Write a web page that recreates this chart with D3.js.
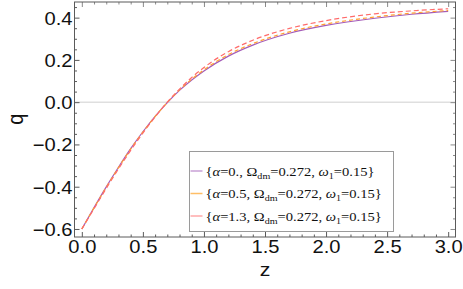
<!DOCTYPE html>
<html>
<head>
<meta charset="utf-8">
<script src="https://cdn.jsdelivr.net/npm/d3@7"></script>
<style>
  html, body { margin: 0; padding: 0; background: #fff; }
  svg { display: block; }
  .tick-label { font-family: "Liberation Sans", Arial, sans-serif; font-size: 18px; fill: #111; }
  .axis-title { font-family: "Liberation Sans", Arial, sans-serif; font-size: 20px; fill: #111; }
  .legend-text { font-family: "Liberation Serif", "Times New Roman", serif; font-size: 13px; fill: #111; }
</style>
</head>
<body>
<svg id="chart" width="463" height="289"></svg>
<script>
// q(z) fuer drei Werte von alpha
const zValues = [0, 0.1, 0.2, 0.3, 0.4, 0.5, 0.6, 0.7, 0.8, 0.9, 1.0, 1.2, 1.4, 1.7, 2.0, 2.4, 2.7, 3.0];

const qAlpha0  = [-0.600, -0.499, -0.401, -0.308, -0.220, -0.140, -0.067, -0.002, 0.056, 0.105, 0.148, 0.218, 0.270, 0.326, 0.363, 0.397, 0.416, 0.430];
const qAlpha05 = [-0.600, -0.500, -0.403, -0.310, -0.222, -0.142, -0.068, -0.001, 0.058, 0.109, 0.153, 0.225, 0.277, 0.333, 0.370, 0.403, 0.421, 0.434];
const qAlpha13 = [-0.600, -0.504, -0.408, -0.316, -0.228, -0.146, -0.070, 0.000, 0.062, 0.117, 0.164, 0.239, 0.293, 0.349, 0.386, 0.418, 0.432, 0.442];

const alphaLabels = ["0.", "0.5", "1.3"];
const omegaDm = "0.272";
const omega1 = "0.15";

const xTicks = [0, 0.5, 1.0, 1.5, 2.0, 2.5, 3.0];
const yTicks = [-0.6, -0.4, -0.2, 0.0, 0.2, 0.4];

// Stil der drei Kurven
const seriesStyle = [
    { color: "#a45cb8", dash: null,  legend: "#c9a0d6" },
    { color: "#ffa032", dash: "4,3", legend: "#ffbe66" },
    { color: "#ff6b6b", dash: "5,3", legend: "#ffa8a8" }
];

const stretch = 1.12;  // Schrift im Original etwas breit gezogen

const svg = d3.select("#chart");
const frame = { left: 74.5, right: 455.5, top: 2, bottom: 237 };

const x = d3.scaleLinear().domain([-0.06, 3.06]).range([frame.left, frame.right]);
const y = d3.scaleLinear().domain([-0.638, 0.474]).range([frame.bottom, frame.top]);

// Nulllinie
svg.append("line")
    .attr("x1", frame.left).attr("x2", frame.right)
    .attr("y1", y(0)).attr("y2", y(0))
    .attr("stroke", "#cfcfcf").attr("stroke-width", 1);

// Kurven
const series = [qAlpha0, qAlpha05, qAlpha13];
const line = d3.line()
    .x(d => x(d[0]))
    .y(d => y(d[1]))
    .curve(d3.curveMonotoneX);

series.forEach((values, i) => {
    const pts = zValues.map((z, j) => [z, values[j]]);
    svg.append("path")
        .datum(pts)
        .attr("d", line)
        .attr("fill", "none")
        .attr("stroke", seriesStyle[i].color)
        .attr("stroke-width", 1.2)
        .attr("stroke-dasharray", seriesStyle[i].dash);
});

// Rahmen mit Ticks
const frameColor = "#5a5a5a";
const minorX = d3.range(0, 3.001, 0.1).filter(v => Math.abs(v * 2 - Math.round(v * 2)) > 1e-6);
const minorY = d3.range(-0.6, 0.451, 0.05).filter(v => Math.abs(v * 5 - Math.round(v * 5)) > 1e-6);

const bottomAxis = svg.append("g")
    .attr("transform", `translate(0,${frame.bottom})`)
    .call(d3.axisBottom(x).tickValues(xTicks).tickSizeInner(-5).tickSizeOuter(0).tickPadding(0).tickFormat(d3.format(".1f")));
bottomAxis.select(".domain").remove();
bottomAxis.selectAll("line").attr("stroke", frameColor);
bottomAxis.selectAll("text")
    .attr("class", "tick-label")
    .attr("y", 0)
    .attr("dy", "16px")
    .attr("transform", `scale(${stretch},1)`)
    .style("font-family", null).style("font-size", null);

const leftAxis = svg.append("g")
    .attr("transform", `translate(${frame.left},0)`)
    .call(d3.axisLeft(y).tickValues(yTicks).tickSizeInner(-5).tickSizeOuter(0).tickPadding(0)
        .tickFormat(d => d3.format(".1f")(d).replace("-", "\u2212")));
leftAxis.select(".domain").remove();
leftAxis.selectAll("line").attr("stroke", frameColor);
leftAxis.selectAll("text")
    .attr("class", "tick-label")
    .attr("x", -2 / stretch)
    .attr("dy", "6.5px")
    .attr("transform", `scale(${stretch},1)`)
    .style("font-family", null).style("font-size", null);

// kleine Ticks
const minorBottom = d3.axisBottom(x).tickValues(minorX).tickSizeInner(-2.5).tickSizeOuter(0).tickFormat("");
const minorLeft = d3.axisLeft(y).tickValues(minorY).tickSizeInner(-2.5).tickSizeOuter(0).tickFormat("");
[[minorBottom, `translate(0,${frame.bottom})`], [minorLeft, `translate(${frame.left},0)`]].forEach(([ax, tr]) => {
    const g = svg.append("g").attr("transform", tr).call(ax);
    g.select(".domain").remove();
    g.selectAll("line").attr("stroke", frameColor);
});

// Ticks oben und rechts ohne Beschriftung
const topMajor = d3.axisTop(x).tickValues(xTicks).tickSizeInner(-5).tickSizeOuter(0).tickFormat("");
const topMinor = d3.axisTop(x).tickValues(minorX).tickSizeInner(-2.5).tickSizeOuter(0).tickFormat("");
const rightMajor = d3.axisRight(y).tickValues(yTicks).tickSizeInner(-5).tickSizeOuter(0).tickFormat("");
const rightMinor = d3.axisRight(y).tickValues(minorY).tickSizeInner(-2.5).tickSizeOuter(0).tickFormat("");
[[topMajor, `translate(0,${frame.top})`], [topMinor, `translate(0,${frame.top})`],
 [rightMajor, `translate(${frame.right},0)`], [rightMinor, `translate(${frame.right},0)`]].forEach(([ax, tr]) => {
    const g = svg.append("g").attr("transform", tr).call(ax);
    g.select(".domain").remove();
    g.selectAll("line").attr("stroke", "#8a8a8a");
});

svg.append("rect")
    .attr("x", frame.left).attr("y", frame.top)
    .attr("width", frame.right - frame.left).attr("height", frame.bottom - frame.top)
    .attr("fill", "none").attr("stroke", frameColor).attr("stroke-width", 1);

// Achsentitel
svg.append("text")
    .attr("class", "axis-title")
    .attr("transform", `translate(${(x(0) + x(3)) / 2},276) scale(${stretch},1)`)
    .attr("text-anchor", "middle")
    .style("font-size", "19px")
    .text("z");

svg.append("text")
    .attr("class", "axis-title")
    .attr("transform", `translate(23,${y(-0.08)}) rotate(-90) scale(1,${stretch})`)
    .attr("text-anchor", "middle")
    .text("q");

// Legende
const legend = svg.append("g").attr("transform", "translate(189.5,151.5)");
legend.append("rect")
    .attr("width", 204).attr("height", 80)
    .attr("fill", "#fff")
    .attr("stroke", "#9a9a9a").attr("stroke-width", 1);

const rowY = [19.5, 42, 64.5];
alphaLabels.forEach((a, i) => {
    legend.append("line")
        .attr("x1", 1).attr("x2", 13)
        .attr("y1", rowY[i]).attr("y2", rowY[i])
        .attr("stroke", seriesStyle[i].legend).attr("stroke-width", 1.5);

    const t = legend.append("text")
        .attr("class", "legend-text")
        .attr("transform", `translate(16,${rowY[i] + 4.5}) scale(${stretch},1)`);
    t.append("tspan").text("{");
    t.append("tspan").style("font-style", "italic").text("\u03b1");
    t.append("tspan").text(`=${a}, \u03a9`);
    t.append("tspan").attr("dy", 3).style("font-size", "9px").text("dm");
    t.append("tspan").attr("dy", -3).text(`=${omegaDm}, `);
    t.append("tspan").style("font-style", "italic").text("\u03c9");
    t.append("tspan").attr("dy", 3).style("font-size", "9px").text("1");
    t.append("tspan").attr("dy", -3).text(`=${omega1}}`);
});
</script>
</body>
</html>
